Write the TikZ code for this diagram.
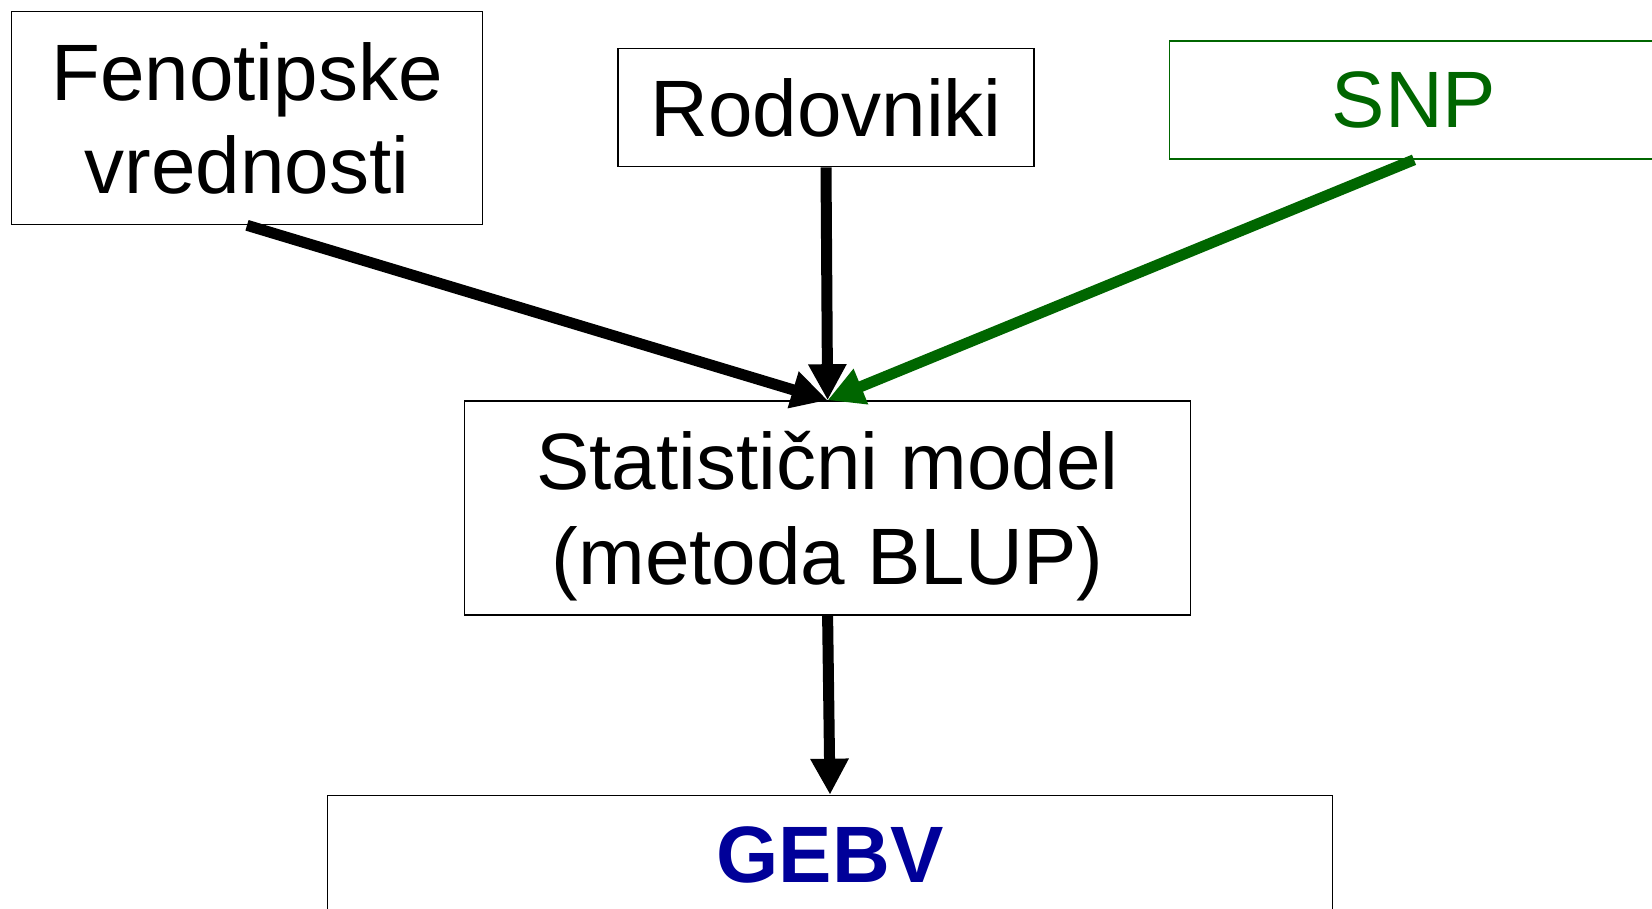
\documentclass[tikz,border=0pt]{standalone}
\usepackage{fontspec}
\setmainfont{Liberation Sans}
\usepackage{xcolor}
\usepackage{tikz}
\usetikzlibrary{arrows.meta}
\definecolor{SnpGreen}{HTML}{006600}
\definecolor{GebvBlue}{HTML}{000099}
\tikzset{
  blup box/.style={
    draw, line width=1.6pt, inner sep=0pt, align=center,
    font=\fontsize{80}{93}\selectfont
  },
  blup arr/.style={-{Triangle[length=36pt, width=36pt]}, line width=11pt}
}

\begin{document}
\begin{tikzpicture}[x=1pt, y=-1pt]
  \useasboundingbox (0,0) rectangle (1652,908);

  \node[blup box, minimum width=471pt, minimum height=213pt] (fen) at (247,118)
    {Fenotipske\\vrednosti};
  \node[blup box, minimum width=416pt, minimum height=118pt] (rod) at (826,107.5)
    {Rodovniki};
  \node[blup box, draw=SnpGreen, text=SnpGreen, minimum width=489pt,
    minimum height=118pt] (snp) at (1414,100) {SNP};
  \node[blup box, font=\fontsize{80}{95}\selectfont, text depth=0pt,
    minimum width=726pt, minimum height=214pt] (stat) at (827.6,508)
    {Statistični model\\(metoda BLUP)};
  \node[blup box, text=GebvBlue, font=\fontsize{80}{92}\selectfont\bfseries,
    minimum width=1005pt, minimum height=119pt] (gebv) at (830,855) {GEBV};

  \draw[blup arr] (fen.south) -- (stat.north);
  \draw[blup arr] (rod.south) -- (stat.north);
  \draw[blup arr, SnpGreen] (snp.south) -- (stat.north);
  \draw[blup arr] (stat.south) -- (gebv.north);
\end{tikzpicture}
\end{document}
